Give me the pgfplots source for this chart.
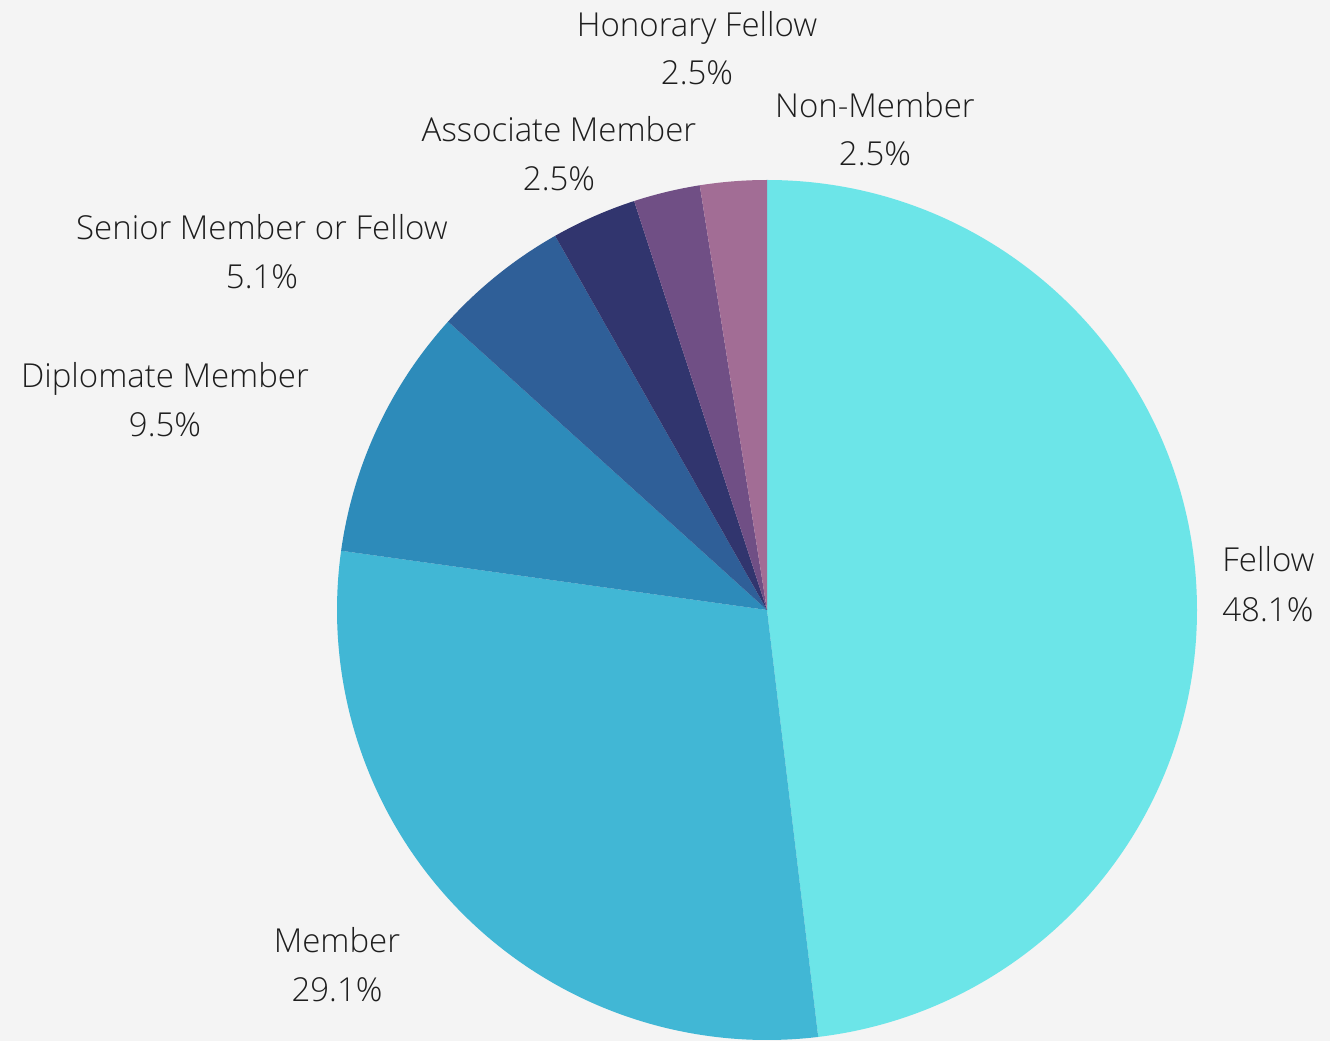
\documentclass[border=0pt]{standalone}
\usepackage{pgfplots}
\pgfplotsset{compat=1.18}
\usepackage{fontspec}
\setmainfont{Open Sans Light}
\definecolor{bg}{HTML}{F4F4F4}
\definecolor{txt}{HTML}{1E1E1E}
\definecolor{cFellow}{HTML}{6CE5E8}
\definecolor{cMember}{HTML}{41B7D5}
\definecolor{cDiplomate}{HTML}{2D8BBA}
\definecolor{cSenior}{HTML}{2F5F98}
\definecolor{cAssociate}{HTML}{31356E}
\definecolor{cHonorary}{HTML}{704F85}
\definecolor{cNon}{HTML}{A26D95}
% shares in percent
\def\vFellow{48.1}%
\def\vMember{29.1}%
\def\vDiplomate{9.5}%
\def\vSenior{5.1}%
\def\vAssociate{3.2}%
\def\vHonorary{2.5}%
\def\vNon{2.5}%
\begin{document}%
\begin{tikzpicture}
\pgfmathsetmacro\aA{90}
\pgfmathsetmacro\aB{\aA-3.6*\vFellow}
\pgfmathsetmacro\aC{\aB-3.6*\vMember}
\pgfmathsetmacro\aD{\aC-3.6*\vDiplomate}
\pgfmathsetmacro\aE{\aD-3.6*\vSenior}
\pgfmathsetmacro\aF{\aE-3.6*\vAssociate}
\pgfmathsetmacro\aG{\aF-3.6*\vHonorary}
\pgfmathsetmacro\aH{\aG-3.6*\vNon}
\begin{axis}[
  scale only axis, width=665pt, height=520.5pt,
  xmin=0, xmax=1330, ymin=0, ymax=1041,
  hide axis, clip=false,
]
\fill[bg] (axis cs:0,0) rectangle (axis cs:1330,1041);
\newcommand\slice[3]{\fill[#3] (axis cs:767,431) -- ++(#1:215pt) arc[start angle=#1, end angle=#2, radius=215pt] -- cycle;}
\slice{\aA}{\aB}{cFellow}
\slice{\aB}{\aC}{cMember}
\slice{\aC}{\aD}{cDiplomate}
\slice{\aD}{\aE}{cSenior}
\slice{\aE}{\aF}{cAssociate}
\slice{\aF}{\aG}{cHonorary}
\slice{\aG}{\aH}{cNon}
\tikzset{lab/.style={anchor=base, inner sep=0pt, text=txt, font=\fontsize{16.5}{19}\selectfont}}
\node[lab] at (axis cs:697,1004) {Honorary Fellow};
\node[lab] at (axis cs:697,956) {2.5\%};
\node[lab] at (axis cs:875,923) {Non-Member};
\node[lab] at (axis cs:875,875) {2.5\%};
\node[lab] at (axis cs:559,899) {Associate Member};
\node[lab] at (axis cs:559,850) {2.5\%};
\node[lab] at (axis cs:262,801) {Senior Member or Fellow};
\node[lab] at (axis cs:262,752) {5.1\%};
\node[lab] at (axis cs:165,653) {Diplomate Member};
\node[lab] at (axis cs:165,604) {9.5\%};
\node[lab] at (axis cs:337,88) {Member};
\node[lab] at (axis cs:337,39) {29.1\%};
\node[lab,anchor=base west] at (axis cs:1222,469) {Fellow};
\node[lab,anchor=base west] at (axis cs:1222,419) {48.1\%};
\end{axis}
\end{tikzpicture}%
\end{document}
